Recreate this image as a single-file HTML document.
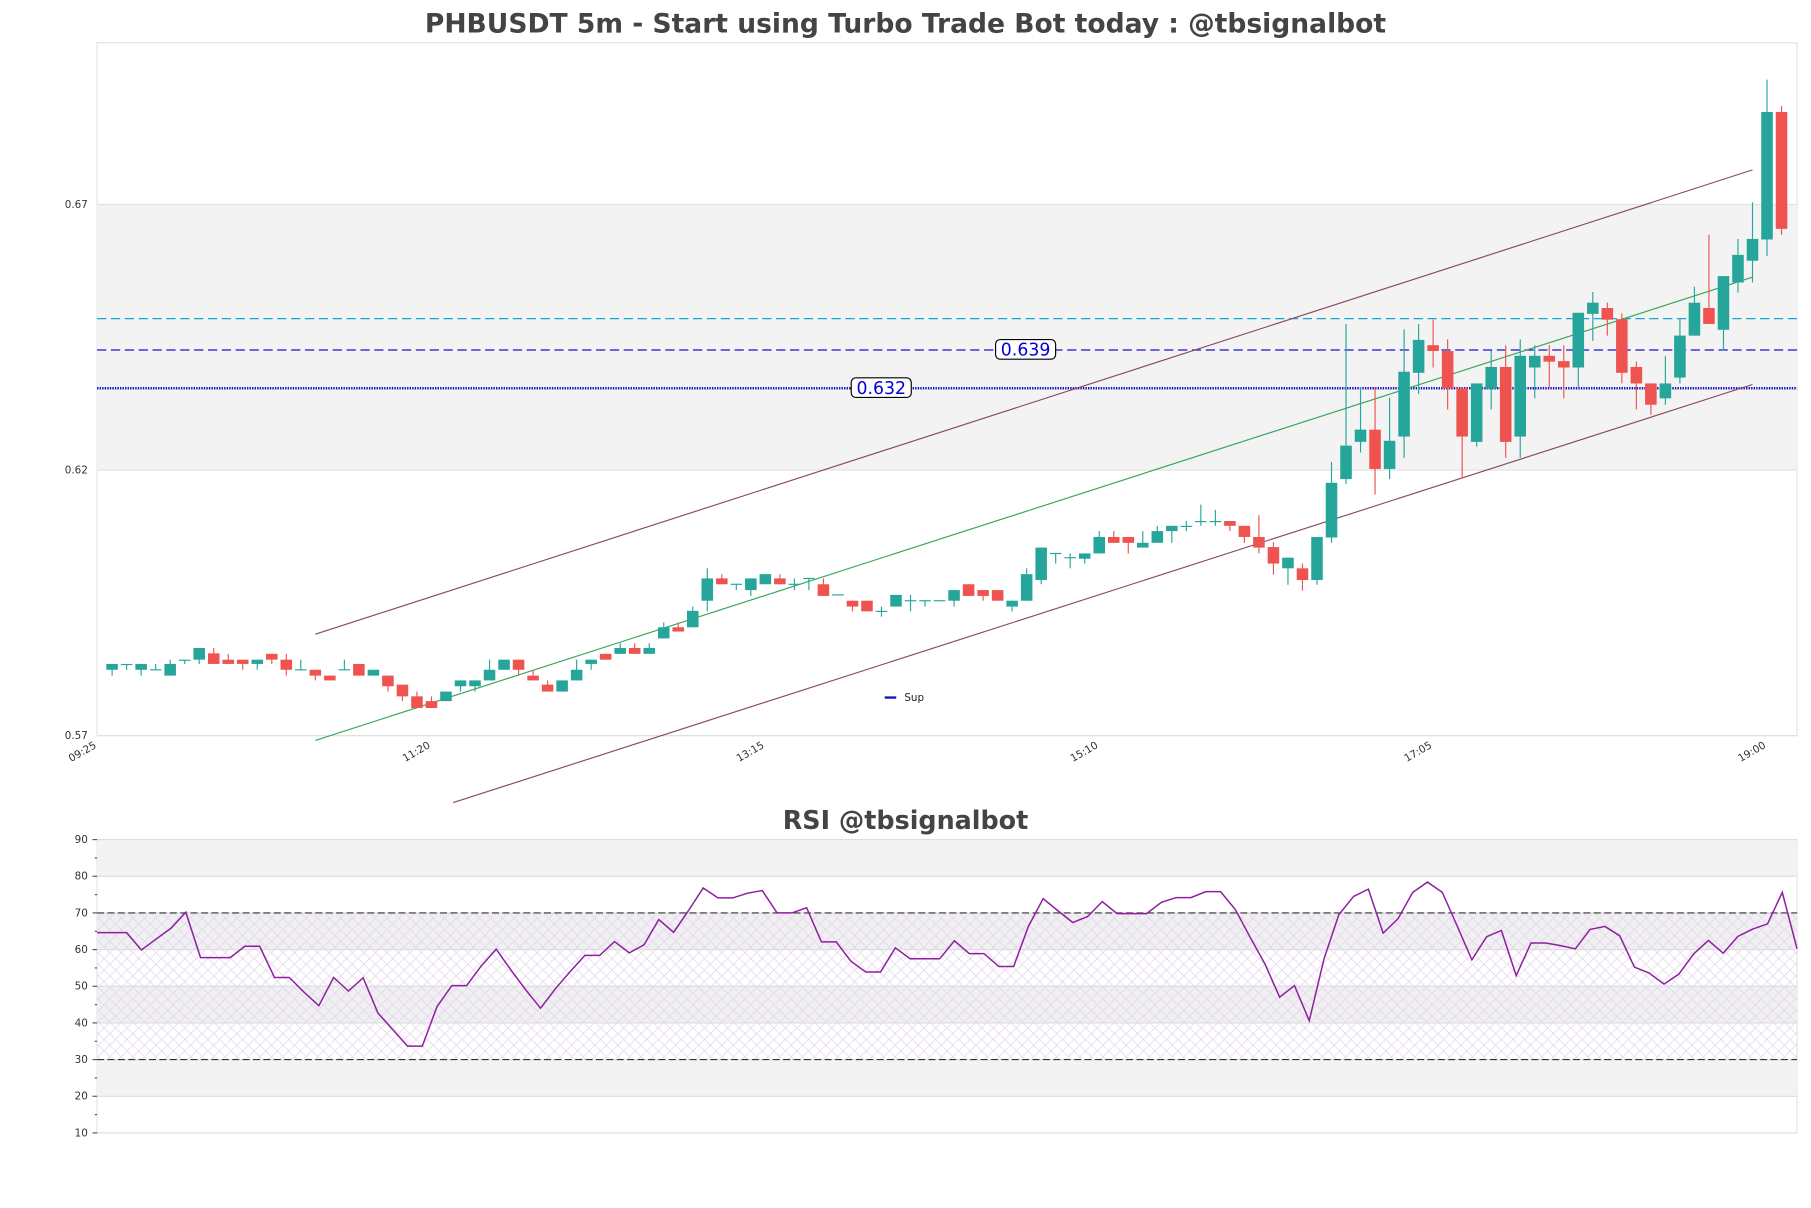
<!DOCTYPE html>
<html><head><meta charset="utf-8">
<style>
html,body{margin:0;padding:0;background:#fff;}
svg{display:block;font-family:"DejaVu Sans","Liberation Sans",sans-serif;}
</style></head>
<body>
<svg id="chart" width="1811" height="1208" viewBox="0 0 1568 1046" xmlns="http://www.w3.org/2000/svg">
<defs>
<pattern id="hatch" width="10" height="10" patternUnits="userSpaceOnUse">
<path d="M0,0 L10,10 M10,0 L0,10" stroke="#e2d3e8" stroke-width="0.6"/>
</pattern>
</defs>
<text x="784" y="28" text-anchor="middle" font-size="23" font-weight="bold" fill="#444">PHBUSDT 5m - Start using Turbo Trade Bot today : @tbsignalbot</text>
<text x="784" y="718" text-anchor="middle" font-size="22" font-weight="bold" fill="#444">RSI @tbsignalbot</text>
<g id="main"></g>
<g id="rsi"></g>
</svg>
<script>
const opens=[.5824,.5833,.5824,.5824,.5813,.5842,.5843,.5855,.5843,.5843,.5835,.5854,.5843,.5824,.5824,.5813,.5824,.5835,.5813,.5813,.5796,.5774,.5765,.5765,.5793,.5793,.5804,.5824,.5843,.5813,.5796,.5783,.5804,.5835,.5854,.5854,.5865,.5854,.5883,.5904,.5904,.5954,.5996,.5985,.5974,.5985,.5996,.5985,.5996,.5985,.5965,.5954,.5954,.5934,.5943,.5954,.5954,.5954,.5954,.5985,.5974,.5974,.5943,.5954,.5993,.6043,.6035,.6033,.6043,.6074,.6074,.6054,.6063,.6085,.6094,.6103,.6103,.6104,.6095,.6074,.6055,.6015,.6015,.5993,.6073,.6183,.6253,.6276,.6202,.6263,.6383,.6435,.6424,.6354,.6253,.6353,.6394,.6263,.6393,.6415,.6405,.6393,.6494,.6505,.6484,.6394,.6363,.6335,.6374,.6453,.6505,.6464,.6553,.6594,.6634,.6874];
const highs=[.5835,.5835,.5835,.5835,.5843,.5843,.5865,.5865,.5854,.5843,.5843,.5854,.5854,.5843,.5824,.5813,.5843,.5835,.5824,.5813,.5796,.5783,.5774,.5783,.5804,.5804,.5843,.5843,.5843,.5824,.5804,.5804,.5843,.5843,.5854,.5874,.5874,.5874,.5913,.5913,.5943,.6015,.6004,.5986,.5996,.6004,.6004,.5996,.5997,.5996,.5966,.5954,.5954,.5943,.5965,.5965,.5955,.5955,.5974,.5985,.5974,.5974,.5954,.6015,.6054,.6044,.6043,.6043,.6085,.6085,.6074,.6085,.6095,.6095,.6104,.6135,.6125,.6104,.6095,.6115,.6064,.6035,.6024,.6074,.6215,.6475,.6356,.6356,.6336,.6465,.6475,.6483,.6446,.6354,.6363,.6425,.6435,.6446,.6435,.6435,.6435,.6496,.6535,.6515,.6495,.6404,.6363,.6415,.6484,.6545,.6643,.6565,.6635,.6704,.6935,.6885];
const lows=[.5813,.5824,.5813,.5824,.5813,.5835,.5835,.5835,.5835,.5824,.5824,.5835,.5813,.5824,.5804,.5804,.5824,.5813,.5813,.5783,.5765,.5752,.5752,.5765,.5783,.5783,.5804,.5824,.5813,.5804,.5783,.5783,.5804,.5824,.5843,.5854,.5854,.5854,.5883,.5896,.5904,.5934,.5985,.5974,.5963,.5985,.5985,.5974,.5974,.5963,.5965,.5934,.5934,.5924,.5943,.5934,.5943,.5954,.5943,.5963,.5954,.5954,.5934,.5954,.5985,.6024,.6015,.6024,.6043,.6063,.6043,.6054,.6063,.6063,.6085,.6095,.6095,.6085,.6063,.6043,.6003,.5984,.5973,.5984,.6063,.6174,.6233,.6154,.6183,.6223,.6343,.6393,.6314,.6185,.6244,.6314,.6223,.6223,.6335,.6356,.6335,.6356,.6443,.6453,.6363,.6314,.6304,.6323,.6363,.6453,.6475,.6425,.6534,.6553,.6603,.6643];
const closes=[.5835,.5835,.5835,.5825,.5835,.5843,.5865,.5835,.5835,.5835,.5843,.5843,.5824,.5825,.5813,.5804,.5825,.5813,.5824,.5793,.5774,.5752,.5752,.5783,.5804,.5804,.5824,.5843,.5824,.5804,.5783,.5804,.5824,.5843,.5843,.5865,.5854,.5865,.5904,.5896,.5935,.5996,.5985,.5986,.5996,.6004,.5985,.5986,.5997,.5963,.5966,.5943,.5934,.5935,.5965,.5955,.5955,.5955,.5974,.5963,.5963,.5954,.5954,.6004,.6054,.6044,.6036,.6043,.6074,.6063,.6063,.6063,.6085,.6095,.6095,.6104,.6104,.6095,.6074,.6054,.6024,.6035,.5993,.6074,.6176,.6246,.6276,.6202,.6255,.6385,.6445,.6424,.6354,.6263,.6363,.6394,.6253,.6415,.6415,.6404,.6393,.6496,.6515,.6483,.6383,.6363,.6323,.6363,.6453,.6515,.6475,.6565,.6605,.6635,.6874,.6654];
const rsiValues=[64.6,64.6,64.6,59.9,62.9,65.8,70.2,57.8,57.8,57.8,60.9,60.9,52.4,52.4,48.4,44.7,52.4,48.7,52.3,42.7,38.2,33.7,33.7,44.5,50.2,50.2,55.6,60.1,54.4,49.0,44.0,49.3,54.0,58.4,58.4,62.2,59.1,61.3,68.2,64.7,70.6,76.8,74.1,74.1,75.4,76.1,70.0,70.0,71.4,62.1,62.1,56.8,53.9,53.9,60.5,57.5,57.5,57.5,62.4,58.9,58.9,55.4,55.4,66.3,73.9,70.6,67.4,69.0,73.1,69.8,69.8,69.8,72.9,74.2,74.2,75.8,75.8,70.9,63.4,56.1,47.0,50.2,40.6,57.5,69.5,74.5,76.5,64.5,68.4,75.6,78.4,75.6,66.5,57.2,63.5,65.2,52.9,61.8,61.8,61.1,60.2,65.5,66.3,63.8,55.2,53.6,50.6,53.3,58.8,62.5,59.0,63.6,65.6,67.0,75.6,60.2];
const priceTicks=[0.57,0.62,0.67];
const priceTickLabels=["0.57","0.62","0.67"];
const timeTickIdx=[0,23,46,69,92,115];
const timeTickLabels=["09:25","11:20","13:15","15:10","17:05","19:00"];
const rsiTicks=[10,20,30,40,50,60,70,80,90];
const levelPrices=[0.6485,0.6426,0.6354];
const levelLabels=["","0.639","0.632"];
const channelIdx=[14,113];
const upperChan=[0.5891,0.6765];
const midChan=[0.5691,0.6563];
const lowerChanIdx=[23.5,113];
const lowerChan=[0.5574,0.6361];

const NS="http://www.w3.org/2000/svg";
function mk(parent,tag,attrs,text){const e=document.createElementNS(NS,tag);for(const k in attrs)e.setAttribute(k,attrs[k]);if(text!==undefined)e.textContent=text;parent.appendChild(e);return e;}
const L=84,R=1556,T=37,B=637;
const xC=i=>97+i*12.57;
const yP=p=>637-(p-0.57)*4600;
const main=document.getElementById('main');
const rsi=document.getElementById('rsi');

// price panel background
let e=mk(main,'rect',{x:L,y:T,width:R-L,height:B-T,fill:'#fff',stroke:'#e3e3e3'});


e=mk(main,'rect',{x:L,y:yP(0.67),width:R-L,height:yP(0.62)-yP(0.67),fill:'#f3f3f3'});


priceTicks.forEach((p,k)=>{
  let g=mk(main,'line',{x1:L,x2:R,y1:yP(p),y2:yP(p),stroke:'#e0e0e0'});
  
  
  let t=mk(main,'text',{x:76,y:yP(p)+3,'text-anchor':'end','font-size':9,fill:'#333'},priceTickLabels[k]);
  
  
});
timeTickIdx.forEach((i,k)=>{
  const x=xC(i)-13,y=B+10;
  let t=mk(main,'text',{x:x,y:y,'text-anchor':'end','font-size':9,fill:'#333',transform:`rotate(-30 ${x} ${y})`},timeTickLabels[k]);
  
  
});
// level lines
const levelStyles=[{stroke:'#1aa3d9','stroke-dasharray':'8,4','stroke-width':1},{stroke:'#1414c8','stroke-dasharray':'8,4','stroke-width':1.1},{stroke:'#1010c0','stroke-dasharray':'1.2,1','stroke-width':2.2}];
levelPrices.forEach((p,k)=>{
  let a=Object.assign({x1:L,x2:R,y1:yP(p),y2:yP(p)},levelStyles[k]);
  let l=mk(main,'line',a);
  
  
});
// channel lines
function chan(i0,i1,p0,p1,color,name){
  let l=mk(main,'line',{x1:xC(i0),x2:xC(i1),y1:yP(p0),y2:yP(p1),stroke:color,'stroke-width':1});
  
  
}
chan(channelIdx[0],channelIdx[1],upperChan[0],upperChan[1],'#8b4a62','channel-upper');
chan(channelIdx[0],channelIdx[1],midChan[0],midChan[1],'#3aa55a','channel-middle');
chan(lowerChanIdx[0],lowerChanIdx[1],lowerChan[0],lowerChan[1],'#8b4a62','channel-lower');
// candles
for(let i=0;i<opens.length;i++){
  const up=closes[i]>=opens[i];const col=up?'#26a69a':'#ef5350';
  const x=xC(i);
  let w=mk(main,'line',{x1:x,x2:x,y1:yP(highs[i]),y2:yP(lows[i]),stroke:col,'stroke-width':1});
  
  
  const top=yP(Math.max(opens[i],closes[i])),bot=yP(Math.min(opens[i],closes[i]));
  let b=mk(main,'rect',{x:x-5,y:top,width:10,height:Math.max(bot-top,1),fill:col});
  
  
}
// level labels
const labelX=[0,888,763];
levelPrices.forEach((p,k)=>{
  if(!levelLabels[k])return;
  const y=yP(p);
  let r=mk(main,'rect',{x:labelX[k]-26,y:y-9,width:52,height:17,rx:4,fill:'#fff',stroke:'#000','stroke-width':1});
  
  
  let t=mk(main,'text',{x:labelX[k],y:y+5,'text-anchor':'middle','font-size':15,fill:'#0000dd'},levelLabels[k]);
  
  
});
// legend
e=mk(main,'line',{x1:766,x2:776,y1:604,y2:604,stroke:'#1010c0','stroke-width':2});


e=mk(main,'text',{x:783,y:607,'font-size':9,fill:'#222'},'Sup');



// RSI panel
const RT=727,RB=981;
const yR=v=>RB-(v-10)*(RB-RT)/80;
const xR=i=>L+i*(R-L)/(rsiValues.length-1);
e=mk(rsi,'rect',{x:L,y:RT,width:R-L,height:RB-RT,fill:'#fff',stroke:'#e3e3e3'});


[[80,90],[60,70],[40,50],[20,30]].forEach(b=>{
  let r=mk(rsi,'rect',{x:L,y:yR(b[1]),width:R-L,height:yR(b[0])-yR(b[1]),fill:b[0]==60||b[0]==40?'#f0eff2':'#f3f3f3'});
  
  
});
e=mk(rsi,'rect',{x:L,y:yR(70),width:R-L,height:yR(30)-yR(70),fill:'url(#hatch)'});


rsiTicks.forEach(v=>{
  let g=mk(rsi,'line',{x1:L,x2:R,y1:yR(v),y2:yR(v),stroke:'#dddddd'});
  
  
  let tk=mk(rsi,'line',{x1:L-4,x2:L,y1:yR(v),y2:yR(v),stroke:'#555'});
  
  
  let t=mk(rsi,'text',{x:76,y:yR(v)+3,'text-anchor':'end','font-size':9,fill:'#333'},String(v));
  
  
  if(v<90){let m=mk(rsi,'line',{x1:L-2,x2:L,y1:yR(v+5),y2:yR(v+5),stroke:'#555'});
  
  }
});
[70,30].forEach(v=>{
  let l=mk(rsi,'line',{x1:L,x2:R,y1:yR(v),y2:yR(v),stroke:'#333','stroke-dasharray':'6,3','stroke-width':1});
  
  
});
let pts=rsiValues.map((v,i)=>xR(i).toFixed(1)+','+yR(v).toFixed(1)).join(' ');
e=mk(rsi,'polyline',{points:pts,fill:'none',stroke:'#8e1fa0','stroke-width':1.3});


</script>
</body></html>
